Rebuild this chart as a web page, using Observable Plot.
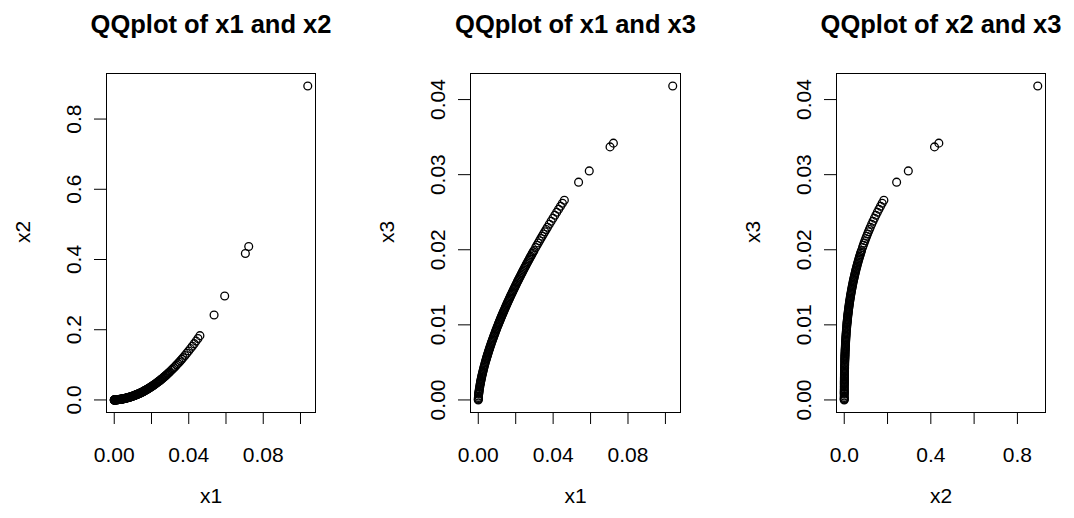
<!DOCTYPE html>
<html><head><meta charset="utf-8">
<script src="https://cdn.jsdelivr.net/npm/d3@7"></script>
<script src="https://cdn.jsdelivr.net/npm/@observablehq/plot@0.6"></script>
<style>
html,body{margin:0;padding:0;background:#fff;}
#charts{display:flex;width:1074px;height:518px;}
#charts svg{display:block;flex:none;}
</style></head><body><div id="charts"></div>
<script>
// Sorted quantiles (same index = same quantile)
const x1 = [0, 0.000008, 0.000027, 0.000064, 0.000125, 0.000216,
  0.000275, 0.000343, 0.000422, 0.000512, 0.000614, 0.000729, 0.000857, 0.001,
  0.001093, 0.001191, 0.001295, 0.001405, 0.001521, 0.001643, 0.001772, 0.001907, 0.002048, 0.002197, 0.002353, 0.002515, 0.002686, 0.002863, 0.003049, 0.003242, 0.003443, 0.003652, 0.00387, 0.004096,
  0.004252, 0.004411, 0.004574, 0.004742, 0.004913, 0.005088, 0.005268, 0.005452, 0.00564, 0.005832, 0.006029, 0.00623, 0.006435, 0.006645, 0.006859, 0.007078, 0.007301, 0.00753, 0.007762, 0.008, 0.008242, 0.00849, 0.008742, 0.008999, 0.009261, 0.009528, 0.0098, 0.010078, 0.01036, 0.010648,
  0.010867, 0.01109, 0.011315, 0.011543, 0.011775, 0.012009, 0.012247, 0.012487, 0.012731, 0.012978, 0.013228, 0.013481, 0.013738, 0.013998, 0.014261, 0.014527, 0.014796, 0.015069, 0.015345, 0.015625, 0.015908, 0.016194, 0.016484, 0.016777, 0.017074, 0.017374, 0.017678, 0.017985, 0.018295, 0.01861, 0.018927, 0.019249, 0.019574, 0.019903, 0.020235, 0.020571, 0.020911, 0.021254, 0.021601, 0.021952, 0.022307, 0.022665, 0.023028, 0.023394, 0.023764, 0.024138, 0.024515, 0.024897, 0.025283, 0.025672, 0.026066, 0.026464, 0.026865, 0.027271, 0.027681, 0.028094, 0.028512, 0.028934, 0.029361, 0.029791,
  0.030666, 0.031348, 0.032036, 0.032729, 0.033424, 0.034126, 0.034834, 0.035547, 0.036264, 0.036982, 0.037951, 0.038928, 0.039918, 0.040911, 0.041912, 0.042922, 0.043939, 0.044965, 0.045999,
  0.0536, 0.0593, 0.0704, 0.0722, 0.1039];
const x2 = [0, 0, 0.00001, 0.00002, 0.00004, 0.00007,
  0.00009, 0.00011, 0.00014, 0.00017, 0.00021, 0.00026, 0.00032, 0.00038,
  0.00042, 0.00047, 0.00052, 0.00058, 0.00064, 0.00071, 0.00078, 0.00086, 0.00095, 0.00105, 0.00115, 0.00126, 0.00138, 0.00152, 0.00166, 0.00181, 0.00198, 0.00216, 0.00236, 0.00257,
  0.00272, 0.00288, 0.00305, 0.00322, 0.00341, 0.0036, 0.0038, 0.00401, 0.00424, 0.00447, 0.00472, 0.00497, 0.00524, 0.00553, 0.00582, 0.00613, 0.00646, 0.0068, 0.00715, 0.00752, 0.00791, 0.00831, 0.00874, 0.00918, 0.00964, 0.01012, 0.01062, 0.01115, 0.0117, 0.01226,
  0.01271, 0.01317, 0.01364, 0.01412, 0.01462, 0.01514, 0.01567, 0.01622, 0.01679, 0.01737, 0.01797, 0.01858, 0.01922, 0.01987, 0.02055, 0.02124, 0.02195, 0.02269, 0.02344, 0.02422, 0.02502, 0.02584, 0.02668, 0.02755, 0.02844, 0.02936, 0.0303, 0.03127, 0.03227, 0.03329, 0.03434, 0.03542, 0.03652, 0.03766, 0.03883, 0.04002, 0.04125, 0.04251, 0.04381, 0.04514, 0.0465, 0.0479, 0.04933, 0.0508, 0.05231, 0.05385, 0.05544, 0.05706, 0.05872, 0.06043, 0.06218, 0.06397, 0.0658, 0.06768, 0.0696, 0.07157, 0.07359, 0.07566, 0.07777, 0.07994,
  0.0844, 0.088, 0.0917, 0.0955, 0.0994, 0.1034, 0.1075, 0.1118, 0.1161, 0.1205, 0.1266, 0.1329, 0.1394, 0.1462, 0.1531, 0.1603, 0.1676, 0.1752, 0.1831,
  0.242, 0.296, 0.417, 0.437, 0.894];
const x3 = [0, 0.00008, 0.00019, 0.00033, 0.00052, 0.00075,
  0.00088, 0.00102, 0.00117, 0.00133, 0.0015, 0.00168, 0.00187, 0.00207,
  0.0022, 0.00233, 0.00246, 0.0026, 0.00274, 0.00289, 0.00303, 0.00319, 0.00334, 0.0035, 0.00367, 0.00383, 0.004, 0.00418, 0.00436, 0.00454, 0.00472, 0.00491, 0.00511, 0.0053,
  0.00544, 0.00557, 0.00571, 0.00585, 0.00599, 0.00613, 0.00627, 0.00642, 0.00657, 0.00671, 0.00686, 0.00702, 0.00717, 0.00732, 0.00748, 0.00764, 0.0078, 0.00796, 0.00812, 0.00829, 0.00846, 0.00862, 0.00879, 0.00896, 0.00914, 0.00931, 0.00949, 0.00967, 0.00985, 0.01003,
  0.01017, 0.0103, 0.01044, 0.01058, 0.01072, 0.01087, 0.01101, 0.01115, 0.0113, 0.01144, 0.01159, 0.01174, 0.01189, 0.01203, 0.01219, 0.01234, 0.01249, 0.01264, 0.0128, 0.01295, 0.01311, 0.01326, 0.01342, 0.01358, 0.01374, 0.0139, 0.01406, 0.01422, 0.01439, 0.01455, 0.01472, 0.01488, 0.01505, 0.01522, 0.01539, 0.01556, 0.01573, 0.0159, 0.01607, 0.01624, 0.01642, 0.01659, 0.01677, 0.01695, 0.01713, 0.01731, 0.01749, 0.01767, 0.01785, 0.01803, 0.01822, 0.0184, 0.01859, 0.01877, 0.01896, 0.01915, 0.01934, 0.01953, 0.01972, 0.01991,
  0.0203, 0.0206, 0.0209, 0.0212, 0.0215, 0.0218, 0.0221, 0.0224, 0.0227, 0.023, 0.0234, 0.0238, 0.0242, 0.0246, 0.025, 0.0254, 0.0258, 0.0262, 0.0266,
  0.029, 0.0305, 0.0337, 0.0342, 0.0418];

const titles = ["QQplot of x1 and x2", "QQplot of x1 and x3", "QQplot of x2 and x3"];
const ticksSmall = [0, 0.02, 0.04, 0.06, 0.08, 0.10];
const labelsSmallX = ["0.00", "", "0.04", "", "0.08", ""];
const ticksLarge = [0, 0.2, 0.4, 0.6, 0.8];
const labelsLargeX = ["0.0", "", "0.4", "", "0.8"];
const labelsLargeY = ["0.0", "0.2", "0.4", "0.6", "0.8"];
const ticksX3 = [0, 0.01, 0.02, 0.03, 0.04];
const labelsX3 = ["0.00", "0.01", "0.02", "0.03", "0.04"];

const n = Math.min(x1.length, x2.length, x3.length);
const rows = d3.range(n).map(i => ({x1: x1[i], x2: x2[i], x3: x3[i]}));
function pad(key) { const [a, b] = d3.extent(rows, d => d[key]); const p = (b - a) * 0.04; return [a - p, b + p]; }
const FONT = '"Liberation Sans", Arial, Helvetica, sans-serif';

function panel({xKey, yKey, xTicks, xLabels, yTicks, yLabels, title, marginLeft, marginRight}) {
  const xf = new Map(xTicks.map((t, i) => [t, xLabels[i]]));
  const yf = new Map(yTicks.map((t, i) => [t, yLabels[i]]));
  return Plot.plot({
    width: 358, height: 518, marginTop: 73, marginBottom: 106, marginLeft, marginRight,
    style: {fontFamily: FONT, fontSize: "21px", color: "#000", background: "#fff", overflow: "visible"},
    x: {domain: pad(xKey)},
    y: {domain: pad(yKey)},
    marks: [
      Plot.frame({stroke: "#000", strokeWidth: 1}),
      Plot.axisX({ticks: xTicks, tickFormat: d => xf.get(d), tickSize: 12, tickPadding: 23, label: null, fontSize: 21}),
      Plot.axisY({ticks: yTicks, tickFormat: d => yf.get(d), tickSize: 12, tickPadding: 14, tickRotate: -90, label: null, fontSize: 21}),
      Plot.dot(rows, {x: xKey, y: yKey, r: 3.9, stroke: "#000", strokeWidth: 1.3, fill: "none"}),
      Plot.text([title], {text: d => d, frameAnchor: "top", dy: -41, lineAnchor: "bottom", fontWeight: "bold", fontSize: 25.5}),
      Plot.text([xKey], {text: d => d, frameAnchor: "bottom", dy: 90, lineAnchor: "bottom", fontSize: 21}),
      Plot.text([yKey], {text: d => d, frameAnchor: "left", dx: -77, rotate: -90, lineAnchor: "bottom", fontSize: 21})
    ]
  });
}

const host = document.getElementById("charts");
host.append(panel({xKey: "x1", yKey: "x2", xTicks: ticksSmall, xLabels: labelsSmallX, yTicks: ticksLarge, yLabels: labelsLargeY, title: titles[0], marginLeft: 106, marginRight: 43}));
host.append(panel({xKey: "x1", yKey: "x3", xTicks: ticksSmall, xLabels: labelsSmallX, yTicks: ticksX3, yLabels: labelsX3, title: titles[1], marginLeft: 112, marginRight: 36}));
host.append(panel({xKey: "x2", yKey: "x3", xTicks: ticksLarge, xLabels: labelsLargeX, yTicks: ticksX3, yLabels: labelsX3, title: titles[2], marginLeft: 120, marginRight: 29}));
</script></body></html>
